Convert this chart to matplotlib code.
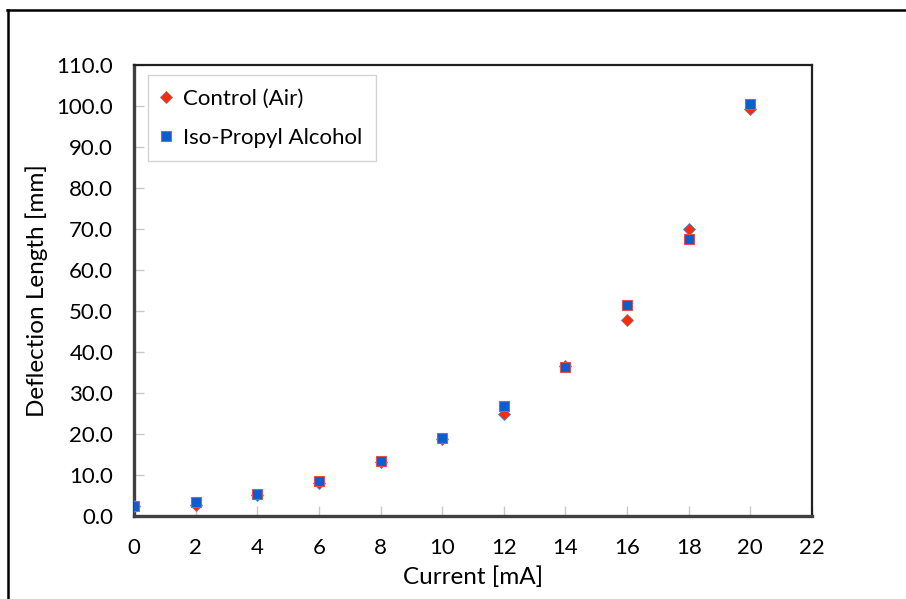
import numpy as np
import matplotlib.pyplot as plt
from matplotlib.lines import Line2D

plt.rcParams['font.family'] = ['Lato', 'DejaVu Sans']

# data
current = [0, 2, 4, 6, 8, 10, 12, 14, 16, 18, 20]
control_air = [2.5, 2.7, 5.0, 8.1, 13.2, 18.7, 24.9, 36.7, 47.7, 70.1, 99.3]
iso_propyl = [2.4, 3.3, 5.3, 8.6, 13.5, 19.0, 26.9, 36.4, 51.4, 67.5, 100.5]

x_ticks = np.arange(0, 23, 2)
y_ticks = np.arange(0, 111, 10)

fig = plt.figure(figsize=(9.06, 5.99), dpi=100)
ax = fig.add_axes([0.1479, 0.1386, 0.7483, 0.7529])

ax.plot(current, control_air, linestyle='none', marker='D', markersize=6,
        markerfacecolor='#ff2a00', markeredgecolor='#4a7fd0', markeredgewidth=0.6,
        label='Control (Air)', zorder=3)
ax.plot(current, iso_propyl, linestyle='none', marker='s', markersize=6.6,
        markerfacecolor='#0a5fd0', markeredgecolor='#e05050', markeredgewidth=0.8,
        label='Iso-Propyl Alcohol', zorder=4)

ax.set_xlim(0, 22)
ax.set_ylim(0, 110)
ax.set_xticks(x_ticks)
ax.set_yticks(y_ticks)
ax.set_yticklabels([f'{v:.1f}' for v in y_ticks])
ax.tick_params(direction='in', length=7, width=1, color='#c8c8c8',
               labelsize=16, pad=15)
ax.tick_params(axis='x', pad=16)

for side in ['left', 'bottom']:
    ax.spines[side].set_linewidth(2.4)
    ax.spines[side].set_color('#404040')
for side in ['top', 'right']:
    ax.spines[side].set_linewidth(1.6)
    ax.spines[side].set_color('#202020')

ax.set_xlabel('Current [mA]', fontsize=17.5, labelpad=6)
ax.set_ylabel('Deflection Length [mm]', fontsize=17.5, labelpad=6)

leg = ax.legend(loc='upper left', bbox_to_anchor=(0.02, 0.977), fontsize=16,
                frameon=True, fancybox=False, handlelength=0.5, handletextpad=0.5,
                borderpad=0.6, labelspacing=0.85, borderaxespad=0)
leg.get_frame().set_edgecolor('#c8c8c8')
leg.get_frame().set_linewidth(1.0)

# outer frame seen at top and left of the picture
fig.add_artist(Line2D([0.008, 1.0], [0.984, 0.984], color='black', lw=1.8,
                      transform=fig.transFigure))
fig.add_artist(Line2D([0.0085, 0.0085], [0.0, 0.984], color='black', lw=1.8,
                      transform=fig.transFigure))

fig.savefig('out.png', dpi=100)
